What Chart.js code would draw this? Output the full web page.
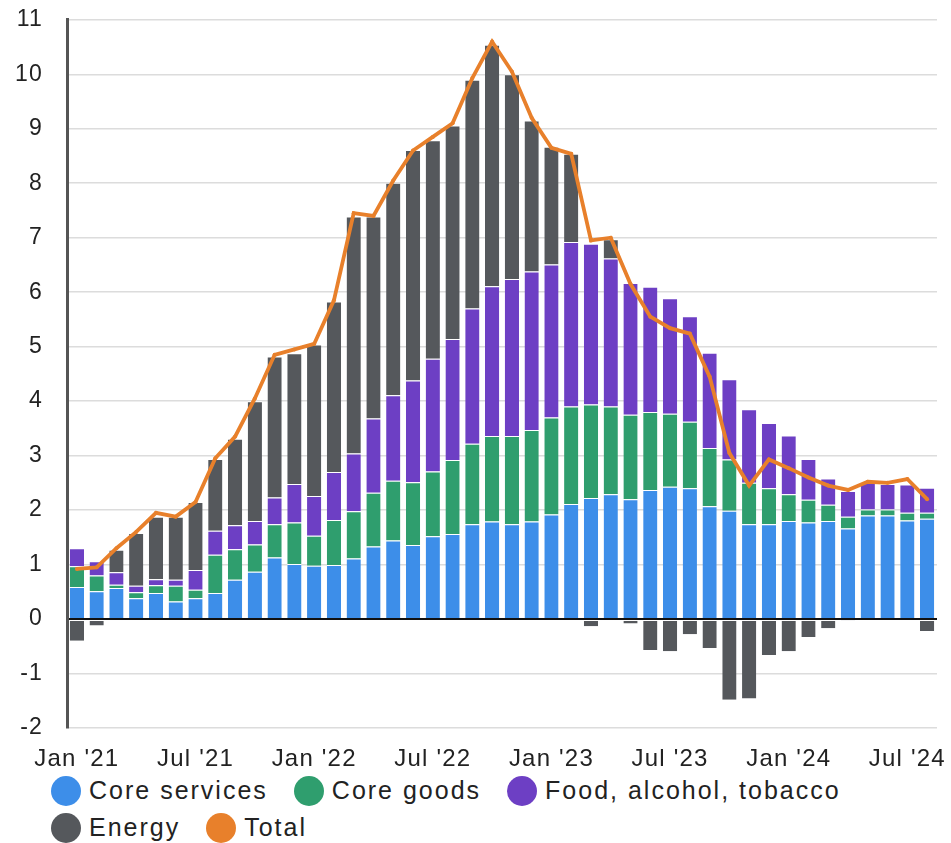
<!DOCTYPE html>
<html lang="en">
<head>
    <meta charset="UTF-8"/>
    <title>inflation contributions</title>
    <script src="https://cdn.jsdelivr.net/npm/chart.js@4.4.1/dist/chart.umd.min.js"></script>
    <style>
        html, body { margin: 0; padding: 0; background: #fff; }
        body { width: 951px; height: 843px; overflow: hidden; font-family: "Liberation Sans", Arial, sans-serif; }
        #wrap { width: 951px; height: 770px; }
        #chart { display: block; position: relative; top: -18px; }
        #legend { display: flex; flex-wrap: wrap; width: 830px; margin-left: 51px; margin-top: 2px; }
        .item { display: flex; align-items: center; height: 37px; margin-right: 26px; font-size: 25px; letter-spacing: 2px; color: #222; }
        .dot { width: 30px; height: 30px; border-radius: 50%; margin-right: 8px; }
    </style>
</head>
<body>
<div id="wrap"><canvas id="chart" width="951" height="788"></canvas></div>
<div id="legend"></div>

<script>
    // months, Jan '21 .. Aug '24
    const months = [
        "Jan '21", "Feb '21", "Mar '21", "Apr '21", "May '21", "Jun '21", "Jul '21", "Aug '21", "Sep '21", "Oct '21", "Nov '21", "Dec '21",
        "Jan '22", "Feb '22", "Mar '22", "Apr '22", "May '22", "Jun '22", "Jul '22", "Aug '22", "Sep '22", "Oct '22", "Nov '22", "Dec '22",
        "Jan '23", "Feb '23", "Mar '23", "Apr '23", "May '23", "Jun '23", "Jul '23", "Aug '23", "Sep '23", "Oct '23", "Nov '23", "Dec '23",
        "Jan '24", "Feb '24", "Mar '24", "Apr '24", "May '24", "Jun '24", "Jul '24", "Aug '24"
    ];

    const coreServices = [
        0.59, 0.51, 0.57, 0.38, 0.48, 0.32, 0.38, 0.48, 0.72, 0.87, 1.13, 1.01,
        0.98, 0.99, 1.11, 1.33, 1.44, 1.36, 1.52, 1.56, 1.74, 1.79, 1.74, 1.79,
        1.92, 2.11, 2.22, 2.29, 2.20, 2.37, 2.43, 2.40, 2.07, 1.99, 1.74, 1.74,
        1.80, 1.77, 1.80, 1.66, 1.90, 1.90, 1.81, 1.84
    ];
    const coreGoods = [
        0.38, 0.29, 0.06, 0.11, 0.14, 0.29, 0.16, 0.70, 0.56, 0.50, 0.61, 0.76,
        0.55, 0.83, 0.87, 0.99, 1.10, 1.15, 1.19, 1.36, 1.48, 1.57, 1.62, 1.68,
        1.78, 1.79, 1.72, 1.61, 1.55, 1.43, 1.34, 1.22, 1.07, 0.94, 0.76, 0.66,
        0.49, 0.42, 0.30, 0.22, 0.11, 0.11, 0.14, 0.11
    ];
    const food = [
        0.33, 0.26, 0.23, 0.12, 0.11, 0.11, 0.36, 0.44, 0.44, 0.43, 0.49, 0.71,
        0.73, 0.88, 1.06, 1.36, 1.57, 1.87, 2.07, 2.22, 2.48, 2.75, 2.88, 2.91,
        2.81, 3.02, 2.95, 2.72, 2.42, 2.30, 2.12, 1.94, 1.75, 1.47, 1.35, 1.20,
        1.08, 0.75, 0.48, 0.47, 0.49, 0.47, 0.52, 0.46
    ];
    const energy = [
        -0.40, -0.12, 0.41, 0.97, 1.15, 1.16, 1.25, 1.32, 1.59, 2.20, 2.59, 2.40,
        2.78, 3.13, 4.35, 3.71, 3.90, 4.23, 4.01, 3.92, 4.20, 4.43, 3.76, 2.77,
        2.16, 1.62, -0.13, 0.35, -0.08, -0.57, -0.59, -0.28, -0.53, -1.48, -1.46, -0.66,
        -0.59, -0.33, -0.17, -0.02, 0.00, 0.00, 0.00, -0.22
    ];
    const total = [
        0.92, 0.95, 1.30, 1.60, 1.95, 1.88, 2.15, 2.95, 3.35, 4.05, 4.85, 4.95,
        5.05, 5.85, 7.45, 7.40, 8.05, 8.60, 8.85, 9.10, 9.93, 10.60, 10.05, 9.20,
        8.65, 8.54, 6.95, 7.00, 6.15, 5.55, 5.34, 5.24, 4.45, 3.05, 2.45, 2.93,
        2.77, 2.60, 2.45, 2.37, 2.52, 2.50, 2.57, 2.20
    ];

    const BLUE = '#3d8ee9';
    const GREEN = '#2f9e6e';
    const PURPLE = '#6d3fc4';
    const GREY = '#55585c';
    const ORANGE = '#e8802b';

    // thin white line between stacked pieces
    const bar = (label, data, color) => ({
        label: label,
        data: data,
        backgroundColor: color,
        borderColor: '#fff',
        borderWidth: {top: 1, bottom: 0, left: 0, right: 0},
        borderSkipped: false,
        stack: 'cpi',
        order: 1
    });

    // letter spacing for the canvas text
    const spacing = {
        id: 'spacing',
        beforeDraw(c) { c.ctx.letterSpacing = '1.2px'; }
    };

    const chart = new Chart(document.getElementById('chart'), {
        type: 'bar',
        data: {
            labels: months,
            datasets: [
                bar('Core services', coreServices, BLUE),
                bar('Core goods', coreGoods, GREEN),
                bar('Food, alcohol, tobacco', food, PURPLE),
                bar('Energy', energy, GREY),
                {
                    type: 'line',
                    label: 'Total',
                    data: total,
                    borderColor: ORANGE,
                    backgroundColor: ORANGE,
                    borderWidth: 3.8,
                    pointRadius: 2,
                    pointBorderWidth: 0,
                    tension: 0,
                    stack: 'total',
                    order: 0
                }
            ]
        },
        options: {
            responsive: false,
            animation: false,
            layout: {padding: {top: 0, right: 14, left: 0, bottom: 0}},
            datasets: {bar: {barPercentage: 0.72, categoryPercentage: 1}},
            plugins: {legend: {display: false}, tooltip: {enabled: false}},
            scales: {
                x: {
                    stacked: true,
                    grid: {display: false},
                    border: {display: false},
                    ticks: {
                        autoSkip: false,
                        maxRotation: 0,
                        padding: 9,
                        color: '#222',
                        font: {family: '"Liberation Sans", Arial, sans-serif', size: 24},
                        callback: (v, i) => i % 6 === 0 ? months[i] : ''
                    },
                    afterFit: (s) => { s.height = 42; }
                },
                y: {
                    stacked: true,
                    min: -2,
                    max: 11,
                    ticks: {
                        stepSize: 1,
                        padding: 24,
                        color: '#222',
                        font: {family: '"Liberation Sans", Arial, sans-serif', size: 23}
                    },
                    grid: {
                        drawTicks: false,
                        color: (c) => c.tick.value === 0 ? '#111' : '#dcdcdc',
                        lineWidth: (c) => c.tick.value === 0 ? 2 : 1.5
                    },
                    border: {display: true, color: '#555', width: 3},
                    afterFit: (s) => { s.width = 67; }
                }
            }
        },
        plugins: [spacing]
    });

    // legend as html so it wraps to two rows like the original
    const legend = document.getElementById('legend');
    chart.data.datasets.forEach((ds) => {
        const item = document.createElement('div');
        item.className = 'item';
        const dot = document.createElement('span');
        dot.className = 'dot';
        dot.style.background = ds.type === 'line' ? ds.borderColor : ds.backgroundColor;
        item.appendChild(dot);
        item.appendChild(document.createTextNode(ds.label));
        legend.appendChild(item);
    });
</script>
</body>
</html>
